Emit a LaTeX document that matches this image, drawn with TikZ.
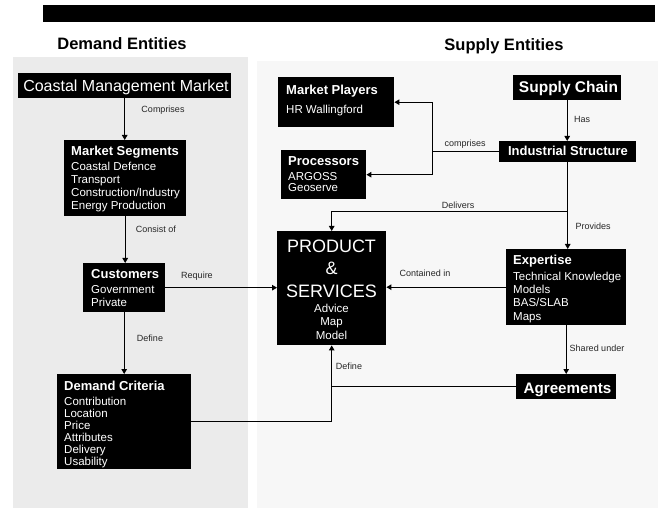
\documentclass[tikz,border=0pt]{standalone}
\usepackage{fontspec}
\setmainfont{Liberation Sans}
\usetikzlibrary{arrows.meta}
\definecolor{demandbg}{HTML}{EBEBEB}
\definecolor{supplybg}{HTML}{F7F7F7}
\begin{document}
\begin{tikzpicture}[x=1pt,y=-1pt,
  blk/.style={fill=black, draw=none, inner sep=0pt, anchor=north west},
  ttl/.style={text=white, inner sep=0pt, anchor=base west, font=\bfseries\fontsize{13}{15}\selectfont},
  % multi-line text: the base anchor sits on the last line
  bdy/.style={text=white, inner sep=0pt, anchor=base west, align=left},
  big/.style={text=white, inner sep=0pt, anchor=base},
  head/.style={inner sep=0pt, anchor=base, font=\bfseries\fontsize{16.5}{19}\selectfont},
  lbl/.style={inner sep=0pt, font=\fontsize{9}{10}\selectfont, text=black!85},
  conn/.style={line width=1pt},
  arr/.style={conn, -{Triangle[length=5pt,width=5.5pt]}},
]
\useasboundingbox (0,0) rectangle (658,510);
\fill[white] (0,0) rectangle (658,510);

% title bar and the two panels
\fill[black] (43,5) rectangle (655,22);
\fill[demandbg] (13,57) rectangle (248,508);
\fill[supplybg] (257,61) rectangle (658,508);

\node[head] (hdem) at (122,50) {Demand Entities};
\node[head] (hsup) at (504,50.5) {Supply Entities};

% ---- demand side ----
\node[blk, minimum width=213pt, minimum height=25pt] (cmm) at (18,73) {};
\node[big, font=\fontsize{16}{19}\selectfont] (cmm-t) at (126,92) {Coastal Management Market};

\node[blk, minimum width=122pt, minimum height=76pt] (seg) at (64,140) {};
\node[ttl] (seg-h) at (71,156) {Market Segments};
\node[bdy, font=\fontsize{11.5}{13.3}\selectfont] (seg-b) at (71,210)
  {Coastal Defence\\Transport\\Construction/Industry\\Energy Production};

\node[blk, minimum width=82pt, minimum height=49pt] (cust) at (83,263) {};
\node[ttl] (cust-h) at (91,279) {Customers};
\node[bdy, font=\fontsize{11.5}{13}\selectfont] (cust-b) at (91,306.5)
  {Government\\Private};

\node[blk, minimum width=134pt, minimum height=95pt] (crit) at (57,374) {};
\node[ttl] (crit-h) at (64,390) {Demand Criteria};
\node[bdy, font=\fontsize{11.5}{11.9}\selectfont] (crit-b) at (64,465)
  {Contribution\\Location\\Price\\Attributes\\Delivery\\Usability};

% ---- supply side ----
\node[blk, minimum width=116pt, minimum height=50pt] (mp) at (278,77) {};
\node[ttl] (mp-h) at (286,94.3) {Market Players};
\node[bdy, font=\fontsize{11.5}{13}\selectfont] (mp-b) at (286,114) {HR Wallingford};

\node[blk, minimum width=85pt, minimum height=49pt] (proc) at (281,150) {};
\node[ttl] (proc-h) at (288,166) {Processors};
\node[bdy, font=\fontsize{11.5}{11.6}\selectfont] (proc-b) at (288,192)
  {ARGOSS\\Geoserve};

\node[blk, minimum width=108pt, minimum height=25pt] (sc) at (513,75) {};
\node[big, font=\bfseries\fontsize{15.5}{18}\selectfont] (sc-t) at (568.5,93) {Supply Chain};

\node[blk, minimum width=137pt, minimum height=21pt] (ind) at (499,141) {};
\node[big, font=\bfseries\fontsize{13}{15}\selectfont] (ind-t) at (568,156) {Industrial Structure};

\node[blk, minimum width=109pt, minimum height=114pt] (prod) at (277,231) {};
\node[big, align=center, font=\fontsize{18}{22.3}\selectfont] (prod-t) at (331.5,297.3)
  {PRODUCT\\\&\\SERVICES};
\node[big, align=center, font=\fontsize{11.5}{13.4}\selectfont] (prod-b) at (331.5,339.3)
  {Advice\\Map\\Model};

\node[blk, minimum width=120pt, minimum height=76pt] (exp) at (506,249) {};
\node[ttl] (exp-h) at (513,265) {Expertise};
\node[bdy, font=\fontsize{11.5}{13.1}\selectfont] (exp-b) at (513,320)
  {Technical Knowledge\\Models\\BAS/SLAB\\Maps};

\node[blk, minimum width=100pt, minimum height=25pt] (agr) at (516,374) {};
\node[big, font=\bfseries\fontsize{15.2}{18}\selectfont] (agr-t) at (567.5,393) {Agreements};

% ---- connectors ----
\draw[arr] (cmm.south) -- (cmm.south |- seg.north);
\draw[arr] (seg.south) -- (seg.south |- cust.north);
\draw[arr] (cust.south) -- (cust.south |- crit.north);
\draw[arr] (cust.east) -- (cust.east -| prod.west);
\coordinate (jn) at (prod.south |- crit.east);
\draw[arr] (crit.east) -- (jn) -- (prod.south);
\draw[conn] (agr.west) -- (agr.west -| prod.south);

\draw[arr] (sc.south) -- (sc.south |- ind.north);
\coordinate (cb) at (432,152);
\draw[conn] (ind.west) -- (ind.west -| cb);
\draw[arr] (ind.west -| cb) |- (mp.east);
\draw[arr] (ind.west -| cb) |- (proc.east);
\draw[arr] (ind.south) -- (ind.south |- exp.north);
\coordinate (dv) at (ind.south |- 0,212);
\draw[arr] (dv) -| (prod.north);
\draw[arr] (exp.west) -- (exp.west -| prod.east);
\draw[arr] (exp.south) -- (exp.south |- agr.north);

% ---- connector labels ----
\node[lbl] (l-comp) at (163,110) {Comprises};
\node[lbl] (l-cons) at (156,229) {Consist of};
\node[lbl] (l-req) at (197,276) {Require};
\node[lbl] (l-def1) at (150,338) {Define};
\node[lbl] (l-has) at (582,119) {Has};
\node[lbl] (l-cmp2) at (465,144) {comprises};
\node[lbl] (l-del) at (458,205) {Delivers};
\node[lbl] (l-prov) at (593,226) {Provides};
\node[lbl] (l-cont) at (425,273) {Contained in};
\node[lbl] (l-shr) at (597,348) {Shared under};
\node[lbl] (l-def2) at (349,366) {Define};
\end{tikzpicture}
\end{document}
